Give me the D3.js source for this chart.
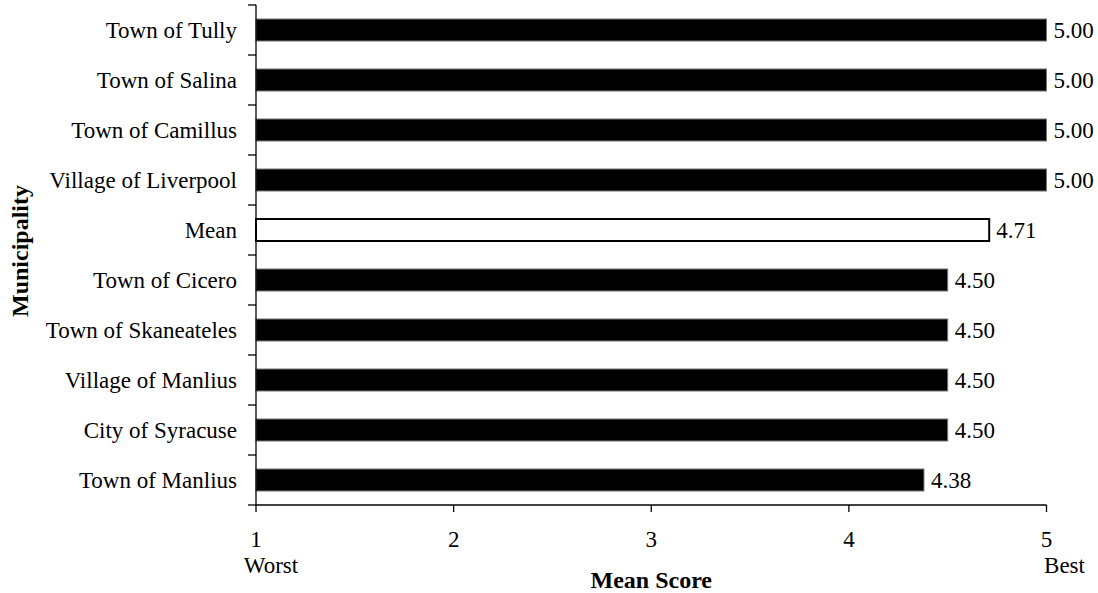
<!DOCTYPE html>
<html><head><meta charset="utf-8">
<script src="https://cdn.jsdelivr.net/npm/d3@7"></script>
<style>body{margin:0;background:#fff}svg{display:block}</style>
</head><body>
<svg id="c" width="1098" height="593"></svg>
<script>
const categories = ["Town of Tully","Town of Salina","Town of Camillus","Village of Liverpool","Mean","Town of Cicero","Town of Skaneateles","Village of Manlius","City of Syracuse","Town of Manlius"];
const values = [5.00,5.00,5.00,5.00,4.71,4.50,4.50,4.50,4.50,4.38];
const xTicks = [1,2,3,4,5];
const xTickSub = {1:"Worst",5:"Best"};
const xTitle = "Mean Score", yTitle = "Municipality";

(function(){
const svg = d3.select("#c");
const font = "'Liberation Serif','Times New Roman',serif";
const FS = 23, TFS = 24;
const L = 256, R = 1046.5, T = 5, B = 505;
const x = d3.scaleLinear().domain([1,5]).range([L,R]);
const y = d3.scaleBand().domain(categories).range([T,B]).paddingInner(0.56).paddingOuter(0.28);

// bars
svg.append("g").selectAll("rect").data(categories).join("rect")
  .attr("x", x(1))
  .attr("y", d => y(d))
  .attr("width", (d,i) => x(values[i]) - x(1))
  .attr("height", y.bandwidth())
  .attr("fill", d => d === "Mean" ? "#fff" : "#000")
  .attr("stroke", d => d === "Mean" ? "#000" : "#777")
  .attr("stroke-width", d => d === "Mean" ? 2 : 1);

// value labels
svg.append("g").selectAll("text").data(categories).join("text")
  .attr("x", (d,i) => x(values[i]) + 7)
  .attr("y", d => y(d) + y.bandwidth()/2 + 8)
  .attr("font-family", font).attr("font-size", FS).attr("fill","#000")
  .text((d,i) => values[i].toFixed(2));

// y axis: line and boundary ticks
const ya = svg.append("g");
ya.append("line").attr("x1",L).attr("x2",L).attr("y1",T).attr("y2",B).attr("stroke","#000").attr("stroke-width",1.3);
const bounds = d3.range(categories.length+1).map(i => T + i*(B-T)/categories.length);
ya.selectAll("line.t").data(bounds).join("line").attr("class","t")
  .attr("x1",L-8).attr("x2",L).attr("y1",d=>d).attr("y2",d=>d).attr("stroke","#000").attr("stroke-width",1.3);
ya.selectAll("text").data(categories).join("text")
  .attr("x", L-19).attr("y", d => y(d)+y.bandwidth()/2+8)
  .attr("text-anchor","end").attr("font-family",font).attr("font-size",FS).attr("fill","#000")
  .text(d=>d);

// x axis
const xa = svg.append("g");
xa.append("line").attr("x1",L).attr("x2",R).attr("y1",B).attr("y2",B).attr("stroke","#000").attr("stroke-width",1.3);
xa.selectAll("line.t").data(xTicks).join("line").attr("class","t")
  .attr("x1",d=>x(d)).attr("x2",d=>x(d)).attr("y1",B).attr("y2",B+7).attr("stroke","#000").attr("stroke-width",1.3);
xa.selectAll("text.n").data(xTicks).join("text").attr("class","n")
  .attr("x",d=>x(d)).attr("y",547).attr("text-anchor","middle")
  .attr("font-family",font).attr("font-size",FS).attr("fill","#000").text(d=>d);
xa.selectAll("text.s").data(xTicks.filter(d=>xTickSub[d])).join("text").attr("class","s")
  .attr("x",d=>x(d)).attr("dx", d => d === 1 ? 15 : 18).attr("y",573).attr("text-anchor","middle")
  .attr("font-family",font).attr("font-size",FS).attr("fill","#000").text(d=>xTickSub[d]);

svg.append("text").attr("x",(L+R)/2).attr("y",588).attr("text-anchor","middle")
  .attr("font-family",font).attr("font-size",TFS).attr("font-weight","bold").text(xTitle);
svg.append("text").attr("transform",`translate(28,${(T+B)/2 - 4}) rotate(-90)`).attr("text-anchor","middle")
  .attr("font-family",font).attr("font-size",TFS).attr("font-weight","bold").text(yTitle);
})();
</script>
</body></html>
